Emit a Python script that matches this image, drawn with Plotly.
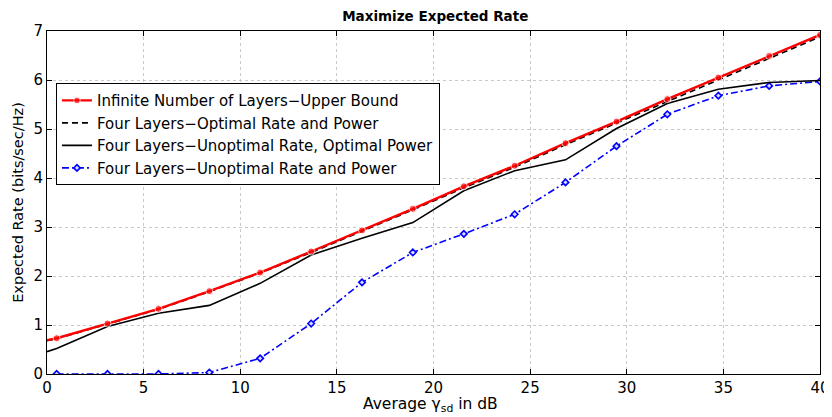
import plotly.graph_objects as go

# ---- data ----
x_db = [0.5, 3.13, 5.77, 8.4, 11.03, 13.67, 16.3, 18.93, 21.57, 24.2,
        26.83, 29.47, 32.1, 34.74, 37.37, 40.0]
x_line = [0.0] + x_db

upper_bound = [0.69, 0.73, 1.03, 1.33, 1.69, 2.07, 2.50, 2.93, 3.37, 3.83,
               4.25, 4.71, 5.15, 5.61, 6.05, 6.49, 6.92]
opt_rate_power = [0.68, 0.72, 1.02, 1.32, 1.68, 2.06, 2.48, 2.91, 3.35, 3.80,
                  4.22, 4.68, 5.12, 5.57, 6.00, 6.44, 6.88]
unopt_rate_opt_power = [0.455, 0.52, 0.97, 1.24, 1.40, 1.85, 2.43, 2.77, 3.09, 3.74,
                        4.15, 4.37, 5.01, 5.52, 5.81, 5.95, 5.99]
unopt_rate_power = [0.0, 0.0, 0.0, 0.03, 0.32, 1.03, 1.87, 2.48, 2.86, 3.26,
                    3.91, 4.65, 5.30, 5.68, 5.88, 5.97]

x_ticks = [0, 5, 10, 15, 20, 25, 30, 35, 40]
y_ticks = [0, 1, 2, 3, 4, 5, 6, 7]

names = ["Infinite Number of Layers\u2212Upper Bound",
         "Four Layers\u2212Optimal Rate and Power",
         "Four Layers\u2212Unoptimal Rate, Optimal Power",
         "Four Layers\u2212Unoptimal Rate and Power"]

FONT = "DejaVu Sans, Liberation Sans, Arial, sans-serif"

fig = go.Figure()

fig.add_trace(go.Scatter(
    x=x_db, y=unopt_rate_power, name=names[3], mode="lines+markers",
    line=dict(color="#0000ff", width=1.6, dash="7px,3px,2px,3px"),
    marker=dict(symbol="diamond", size=5, color="#d8d8ff",
                line=dict(width=1.6, color="#0000ff")),
    legendrank=4))

fig.add_trace(go.Scatter(
    x=x_line, y=unopt_rate_opt_power, name=names[2], mode="lines",
    line=dict(color="black", width=1.6), legendrank=3))

fig.add_trace(go.Scatter(
    x=x_line, y=opt_rate_power, name=names[1], mode="lines",
    line=dict(color="black", width=1.6, dash="6px,4px"), legendrank=2))

fig.add_trace(go.Scatter(
    x=x_line, y=upper_bound, name=names[0], mode="lines+markers",
    line=dict(color="#ff0000", width=2.4),
    marker=dict(symbol="circle", size=[0] + [7] * len(x_db), color="#ff0000"),
    legendrank=1))

axis_common = dict(
    showline=True, linecolor="black", linewidth=1, mirror="ticks",
    ticks="inside", ticklen=5, tickcolor="black", tickwidth=1,
    showgrid=True, gridcolor="#c8c8c8", griddash="dot", gridwidth=1,
    zeroline=False, automargin=False,
    tickfont=dict(family=FONT, size=15, color="black"),
)

# the page body adds an 8px offset; the figure is sized to fit the window
fig.update_layout(
    width=824, height=409,
    margin=dict(l=39, r=12, t=23, b=43),
    paper_bgcolor="white", plot_bgcolor="white",
    font=dict(family=FONT, color="black"),
    title=dict(text="<b>Maximize Expected Rate</b>", x=0.5185, xanchor="center",
               y=0.981, yanchor="middle",
               font=dict(family=FONT, size=13.5, color="black")),
    xaxis=dict(range=[0, 40], tickvals=x_ticks, **axis_common),
    yaxis=dict(range=[0, 7], tickvals=y_ticks,
               title=dict(text="Expected Rate (bits/sec/Hz)", standoff=6,
                          font=dict(family=FONT, size=14.5)),
               **axis_common),
    legend=dict(x=0.0116, y=0.848, xanchor="left", yanchor="top",
                bgcolor="white", bordercolor="black", borderwidth=1,
                font=dict(family=FONT, size=15, color="black"),
                itemwidth=30, tracegroupgap=0),
    showlegend=True,
    annotations=[dict(text="Average \u03b3<sub>sd</sub> in dB",
                      xref="paper", yref="paper", x=0.4955, y=0,
                      xanchor="center", yanchor="top", yshift=-19,
                      showarrow=False,
                      font=dict(family=FONT, size=15.5, color="black"))],
)

fig.write_html("out.html")
